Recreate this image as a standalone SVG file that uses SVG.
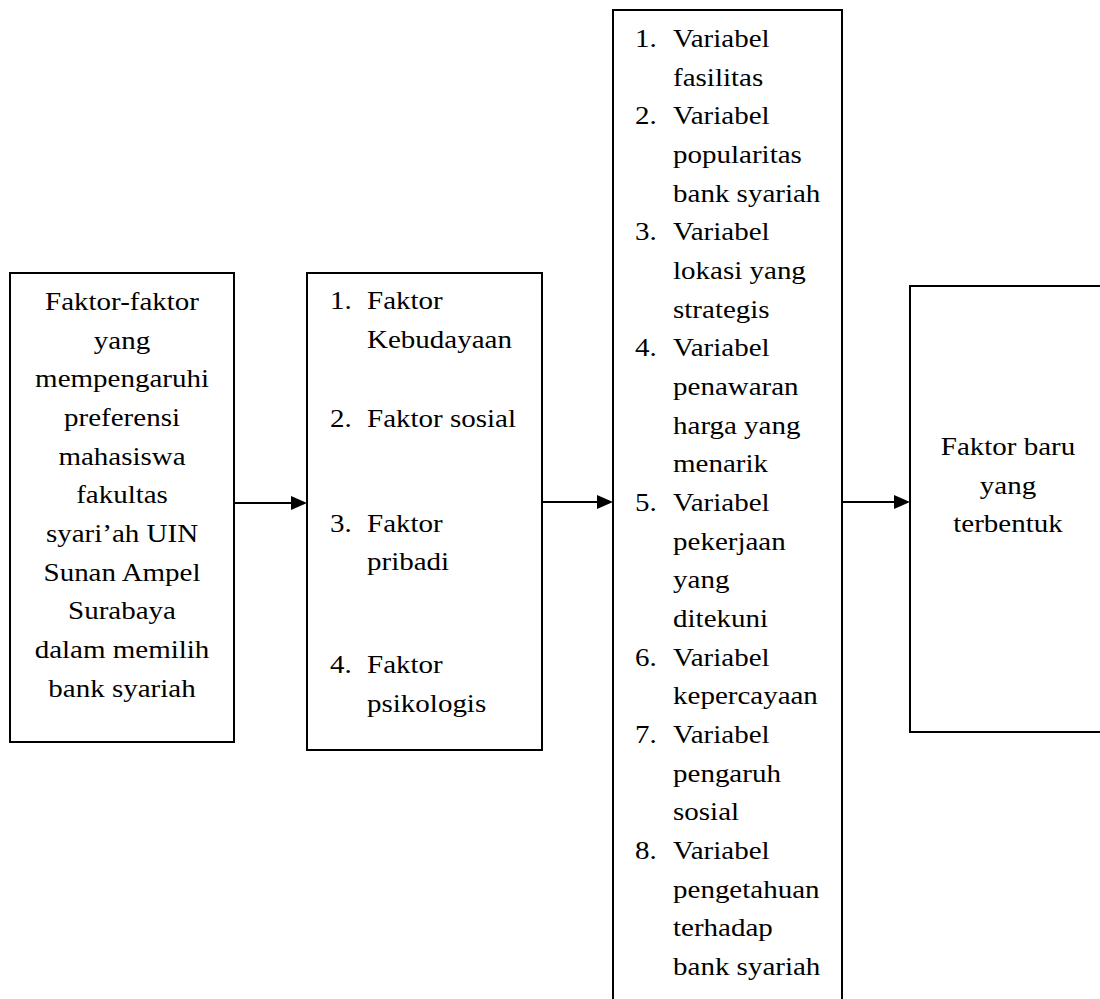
<svg xmlns="http://www.w3.org/2000/svg" width="1100" height="999" viewBox="0 0 1100 999">
<style>
.box{fill:#fff;stroke:#000;stroke-width:2}
.conn{stroke:#000;stroke-width:2;fill:none}
text{font-family:"Liberation Serif","Times New Roman",serif;font-size:25px;fill:#000}
.c{text-anchor:middle}
</style>
<defs>
<marker id="arr" markerUnits="userSpaceOnUse" markerWidth="16" markerHeight="14" viewBox="0 0 16 14" refX="8" refY="7" orient="auto">
<path d="M0,0 L16,7 L0,14 z" fill="#000"/>
</marker>
</defs>
<rect width="1100" height="999" fill="#fff"/>
<g id="connectors">
<line class="conn" x1="234" y1="503" x2="299" y2="503" marker-end="url(#arr)"/>
<line class="conn" x1="542" y1="502" x2="605" y2="502" marker-end="url(#arr)"/>
<line class="conn" x1="842" y1="502" x2="902" y2="502" marker-end="url(#arr)"/>
</g>
<g id="node1">
<rect class="box" x="10" y="273" width="224" height="469"/>
<g transform="scale(1.16 1)">
<text class="c" x="105.2" y="310">Faktor-faktor</text>
<text class="c" x="105.2" y="348.7">yang</text>
<text class="c" x="105.2" y="387.3">mempengaruhi</text>
<text class="c" x="105.2" y="426">preferensi</text>
<text class="c" x="105.2" y="464.7">mahasiswa</text>
<text class="c" x="105.2" y="503.3">fakultas</text>
<text class="c" x="105.2" y="542">syari’ah UIN</text>
<text class="c" x="105.2" y="580.7">Sunan Ampel</text>
<text class="c" x="105.2" y="619.3">Surabaya</text>
<text class="c" x="105.2" y="658">dalam memilih</text>
<text class="c" x="105.2" y="696.7">bank syariah</text>
</g>
</g>
<g id="node2">
<rect class="box" x="307" y="273" width="235" height="477"/>
<g transform="scale(1.16 1)">
<text x="284.5" y="309">1.</text><text x="316.4" y="309">Faktor</text>
<text x="316.4" y="348">Kebudayaan</text>
<text x="284.5" y="427">2.</text><text x="316.4" y="427">Faktor sosial</text>
<text x="284.5" y="532">3.</text><text x="316.4" y="532">Faktor</text>
<text x="316.4" y="570">pribadi</text>
<text x="284.5" y="673">4.</text><text x="316.4" y="673">Faktor</text>
<text x="316.4" y="712">psikologis</text>
</g>
</g>
<g id="node3">
<rect class="box" x="613" y="10" width="229" height="1000"/>
<g transform="scale(1.16 1)">
<text x="547.4" y="47">1.</text><text x="580.2" y="47">Variabel</text>
<text x="580.2" y="85.7">fasilitas</text>
<text x="547.4" y="124.3">2.</text><text x="580.2" y="124.3">Variabel</text>
<text x="580.2" y="163">popularitas</text>
<text x="580.2" y="201.7">bank syariah</text>
<text x="547.4" y="240.3">3.</text><text x="580.2" y="240.3">Variabel</text>
<text x="580.2" y="279">lokasi yang</text>
<text x="580.2" y="317.7">strategis</text>
<text x="547.4" y="356.3">4.</text><text x="580.2" y="356.3">Variabel</text>
<text x="580.2" y="395">penawaran</text>
<text x="580.2" y="433.7">harga yang</text>
<text x="580.2" y="472.3">menarik</text>
<text x="547.4" y="511">5.</text><text x="580.2" y="511">Variabel</text>
<text x="580.2" y="549.7">pekerjaan</text>
<text x="580.2" y="588.3">yang</text>
<text x="580.2" y="627">ditekuni</text>
<text x="547.4" y="665.7">6.</text><text x="580.2" y="665.7">Variabel</text>
<text x="580.2" y="704.3">kepercayaan</text>
<text x="547.4" y="743">7.</text><text x="580.2" y="743">Variabel</text>
<text x="580.2" y="781.7">pengaruh</text>
<text x="580.2" y="820.3">sosial</text>
<text x="547.4" y="859">8.</text><text x="580.2" y="859">Variabel</text>
<text x="580.2" y="897.7">pengetahuan</text>
<text x="580.2" y="936.3">terhadap</text>
<text x="580.2" y="975">bank syariah</text>
</g>
</g>
<g id="node4">
<rect class="box" x="910" y="286" width="200" height="446"/>
<g transform="scale(1.16 1)">
<text class="c" x="869" y="455">Faktor baru</text>
<text class="c" x="869" y="493.7">yang</text>
<text class="c" x="869" y="532.3">terbentuk</text>
</g>
</g>
</svg>
